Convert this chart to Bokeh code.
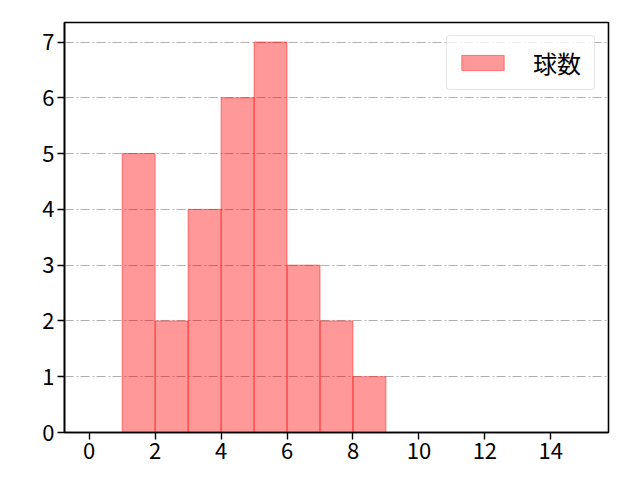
from bokeh.plotting import figure
from bokeh.models import Range1d, FixedTicker, ColumnDataSource, Legend, LegendItem
from bokeh.embed import file_html
from bokeh.resources import INLINE

# data
bin_left = [1, 2, 3, 4, 5, 6, 7, 8]
bin_right = [2, 3, 4, 5, 6, 7, 8, 9]
counts = [5, 2, 4, 6, 7, 3, 2, 1]
x_ticks = [0, 2, 4, 6, 8, 10, 12, 14]
y_ticks = [0, 1, 2, 3, 4, 5, 6, 7]
series_name = "球数"

FONT = "Noto Sans CJK JP"

p = figure(frame_width=544, frame_height=410, output_backend="svg", toolbar_location=None,
           x_range=Range1d(-0.75, 15.75), y_range=Range1d(0, 7.35),
           min_border_left=64, min_border_right=24, min_border_top=22, min_border_bottom=40)

src = ColumnDataSource(dict(left=bin_left, right=bin_right, top=counts, bottom=[0]*len(counts)))
r = p.quad(left="left", right="right", top="top", bottom="bottom", source=src,
           fill_color="red", fill_alpha=0.4, line_color="red", line_alpha=0.45, line_width=1)

p.xgrid.visible = False
p.ygrid.grid_line_color = "#b0b0b0"
p.ygrid.grid_line_dash = "9 3 2 2"
p.ygrid.grid_line_width = 1

p.xaxis.ticker = FixedTicker(ticks=x_ticks)
p.yaxis.ticker = FixedTicker(ticks=y_ticks)
for ax in (p.xaxis[0], p.yaxis[0]):
    ax.major_label_text_font = FONT
    ax.major_label_text_font_size = "22px"
    ax.major_label_text_color = "black"
    ax.major_label_standoff = 3
    ax.axis_line_color = "black"
    ax.axis_line_width = 1.6
    ax.major_tick_line_color = "black"
    ax.major_tick_line_width = 1.4
    ax.major_tick_in = 0
    ax.major_tick_out = 7
    ax.minor_tick_line_color = None
p.outline_line_color = "black"
p.outline_line_width = 1.6
p.outline_line_alpha = 1

legend = Legend(items=[LegendItem(label=series_name, renderers=[r])], location="top_right")
legend.label_text_font = FONT
legend.label_text_font_size = "24px"
legend.label_text_color = "black"
legend.label_height = 20
legend.label_width = 52
legend.glyph_width = 53
legend.glyph_height = 19
legend.border_line_color = "#cccccc"
legend.border_line_width = 1
legend.border_radius = 4
legend.margin = 13
legend.padding = 9
legend.label_standoff = 24
legend.background_fill_alpha = 0.8
p.add_layout(legend)

p.background_fill_color = "white"
p.border_fill_color = "white"

open("out.html", "w").write(file_html(p, INLINE))
